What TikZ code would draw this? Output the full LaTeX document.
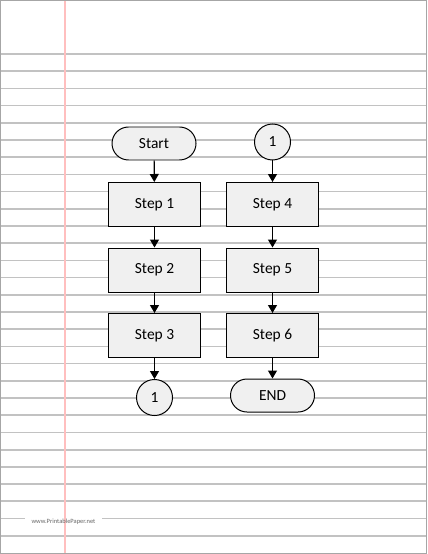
\documentclass[tikz,border=0pt]{standalone}
\usepackage{fontspec}
\setmainfont{Carlito}
\usetikzlibrary{arrows.meta}

\tikzset{
  stepbox/.style = {draw, line width=1pt, fill=black!6, minimum width=92bp, minimum height=44bp, font=\fontsize{15.5}{18}\selectfont},
  termbox/.style = {draw, line width=1pt, fill=black!6, rounded corners=16.5bp, minimum width=84bp, minimum height=33bp, font=\fontsize{15.5}{18}\selectfont},
  connbox/.style = {draw, circle, line width=1pt, fill=black!6, minimum size=36bp, inner sep=0pt, font=\fontsize{15.5}{18}\selectfont},
  flow/.style = {line width=1.2pt, -{Triangle[length=8bp,width=9bp]}},
  ruling/.style = {line width=1.8pt, color=black!24}
}

\begin{document}
\begin{tikzpicture}[x=1bp, y=-1bp]
    \useasboundingbox (0,0) rectangle (427,554);

    % Paper
    \foreach \k in {0,...,28}{
      \ifnum\k=27
        \draw[ruling] (0,54+17.2*\k) -- (25,54+17.2*\k);
        \draw[ruling] (102,54+17.2*\k) -- (427,54+17.2*\k);
      \else
        \draw[ruling] (0,54+17.2*\k) -- (427,54+17.2*\k);
      \fi
    }
    \draw[line width=1.3pt, color=red!25] (65,0) -- (65,554);
    \node[font=\fontsize{6.5}{8}\selectfont, text=black!60] (site) at (63.5,522) {www.PrintablePaper.net};
    \draw[line width=1.2pt, color=black!35] (0.6,0.6) rectangle (426.4,553.4);

    % Column 1
    \node[termbox] (start) at (154,143.5) {Start};
    \node[stepbox] (s1) at (154.5,204.5) {Step 1};
    \node[stepbox] (s2) at (154.5,270) {Step 2};
    \node[stepbox] (s3) at (154.5,335.5) {Step 3};
    \node[connbox] (c1out) at (154.5,397.5) {1};

    % Column 2
    \node[connbox] (c1in) at (272.5,142) {1};
    \node[stepbox] (s4) at (272.5,204.5) {Step 4};
    \node[stepbox] (s5) at (272.5,270) {Step 5};
    \node[stepbox] (s6) at (272.5,335.5) {Step 6};
    \node[termbox] (end) at (272.5,395.5) {END};

    % Edges
    \draw[flow] (start) -- (s1);
    \draw[flow] (s1) -- (s2);
    \draw[flow] (s2) -- (s3);
    \draw[flow] (s3) -- (c1out);
    \draw[flow] (c1in) -- (s4);
    \draw[flow] (s4) -- (s5);
    \draw[flow] (s5) -- (s6);
    \draw[flow] (s6) -- (end);
\end{tikzpicture}
\end{document}
